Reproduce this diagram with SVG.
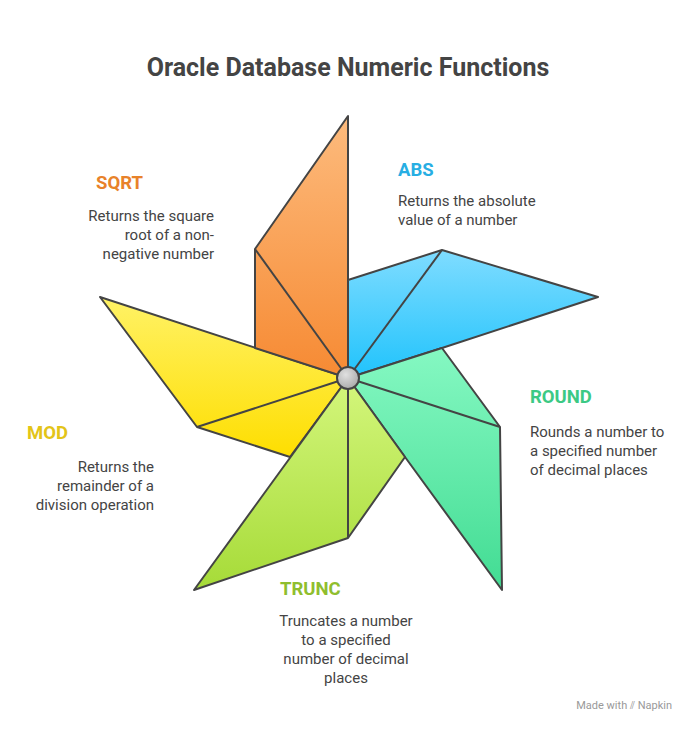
<svg xmlns="http://www.w3.org/2000/svg" width="696" height="732" viewBox="0 0 696 732">
<style>
text{font-family:Roboto,"Liberation Sans",sans-serif}
.t{font-size:25px;font-weight:bold;fill:#444}
.h{font-size:18.5px;font-weight:bold}
.d{font-size:15px;fill:#444}
.b{stroke:#444;stroke-width:2;stroke-linejoin:round}
</style>
<defs>
<linearGradient id="go" x1="0" y1="0" x2="0" y2="1"><stop offset="0" stop-color="#fdbb7d"/><stop offset="1" stop-color="#f68a33"/></linearGradient>
<linearGradient id="gb" x1="0" y1="0" x2="0" y2="1"><stop offset="0" stop-color="#7fdcff"/><stop offset="1" stop-color="#20c3fc"/></linearGradient>
<linearGradient id="gg" x1="0" y1="0" x2="0" y2="1"><stop offset="0" stop-color="#85f8c2"/><stop offset="1" stop-color="#42dc93"/></linearGradient>
<linearGradient id="gl" x1="0" y1="0" x2="0" y2="1"><stop offset="0" stop-color="#d4f67c"/><stop offset="1" stop-color="#a6db38"/></linearGradient>
<linearGradient id="gy" x1="0" y1="0" x2="0" y2="1"><stop offset="0" stop-color="#fff266"/><stop offset="1" stop-color="#fede00"/></linearGradient>
<radialGradient id="gc" cx="0.4" cy="0.35" r="0.7"><stop offset="0" stop-color="#e0e0e0"/><stop offset="1" stop-color="#a8a8a8"/></radialGradient>
</defs>
<text class="t" x="348" y="76" text-anchor="middle">Oracle Database Numeric Functions</text>
<g id="mod"><polygon class="b" fill="url(#gy)" points="348,378 290,457 197,427 100,297"/><line class="b" x1="348" y1="378" x2="197" y2="427"/>
<text class="h" x="27" y="439" fill="#e3c418">MOD</text>
<text class="d" text-anchor="end"><tspan x="154" y="472">Returns the</tspan><tspan x="154" y="491">remainder of a</tspan><tspan x="154" y="510">division operation</tspan></text></g>
<g id="sqrt"><polygon class="b" fill="url(#go)" points="348,378 348,116 255,249 255,348"/><line class="b" x1="348" y1="378" x2="255" y2="249"/>
<text class="h" x="143" y="189" text-anchor="end" fill="#e8822a">SQRT</text>
<text class="d" text-anchor="end"><tspan x="214" y="221">Returns the square</tspan><tspan x="214" y="240">root of a non-</tspan><tspan x="214" y="259">negative number</tspan></text></g>
<g id="abs"><polygon class="b" fill="url(#gb)" points="348,378 348,280 442,250 598,297 442,348"/><line class="b" x1="348" y1="378" x2="442" y2="250"/>
<text class="h" x="398" y="176" fill="#27aee3">ABS</text>
<text class="d"><tspan x="398" y="206">Returns the absolute</tspan><tspan x="398" y="225">value of a number</tspan></text></g>
<g id="round"><polygon class="b" fill="url(#gg)" points="348,378 442,348 500,427 502,590 405,457"/><line class="b" x1="348" y1="378" x2="500" y2="427"/>
<text class="h" x="530" y="403" fill="#3cc984">ROUND</text>
<text class="d"><tspan x="530" y="437">Rounds a number to</tspan><tspan x="530" y="456">a specified number</tspan><tspan x="530" y="475">of decimal places</tspan></text></g>
<g id="trunc"><polygon class="b" fill="url(#gl)" points="348,378 405,457 348,538 194,590"/><line class="b" x1="348" y1="378" x2="348" y2="538"/>
<text class="h" x="280" y="595" fill="#8fbe2e">TRUNC</text>
<text class="d" text-anchor="middle"><tspan x="346" y="626">Truncates a number</tspan><tspan x="346" y="645">to a specified</tspan><tspan x="346" y="664">number of decimal</tspan><tspan x="346" y="683">places</tspan></text></g>
<g id="hub"><circle cx="348" cy="378" r="11" fill="url(#gc)" stroke="#444" stroke-width="2"/></g>
<text x="672" y="709" text-anchor="end" font-size="11" fill="#999">Made with ⫽ Napkin</text>
</svg>
